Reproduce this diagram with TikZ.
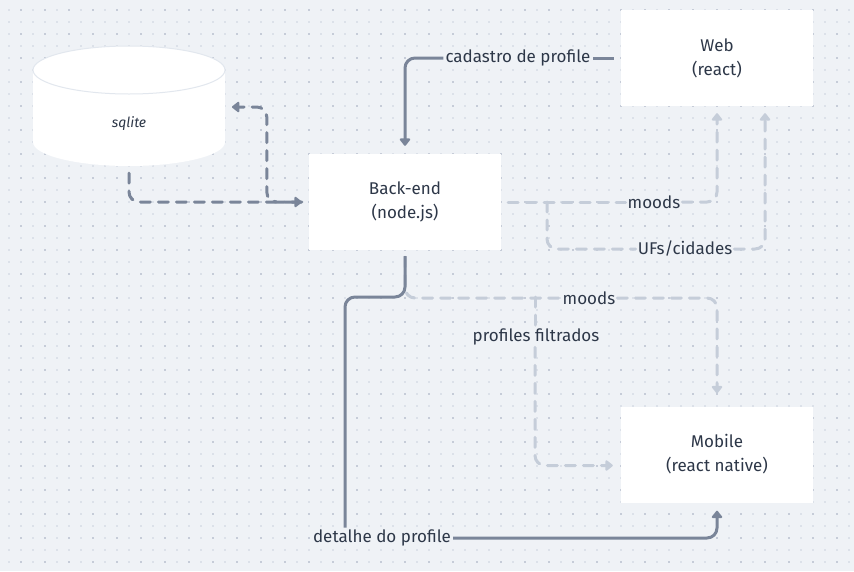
\documentclass[tikz,border=0pt]{standalone}
\usepackage{fontspec}
\setmainfont{Fira Sans}
\usepackage{xcolor}
\usetikzlibrary{positioning}
\usetikzlibrary{arrows.meta}

\definecolor{canvas}{HTML}{EFF2F6}
\definecolor{dotlight}{HTML}{DCE1E9}
\definecolor{dotdark}{HTML}{C6CCD8}
\definecolor{ink}{HTML}{2D3748}
\definecolor{slate}{HTML}{7A8599}
\definecolor{mist}{HTML}{C5CDD9}
\definecolor{rim}{HTML}{E2E7EE}

\begin{document}
\begin{tikzpicture}[x=1pt,y=-1pt,
  box/.style={fill=white,minimum width=192pt,minimum height=96pt,align=center,
    text=ink,font=\fontsize{17}{24}\selectfont},
  tag/.style={fill=canvas,inner sep=2pt,text=ink,font=\fontsize{17}{20}\selectfont},
  tip/.style={-{Triangle[length=8pt,width=12pt,round]}},
  solidlink/.style={draw=slate,line width=3pt,rounded corners=10pt},
  darkdash/.style={draw=slate,line width=3pt,rounded corners=10pt,line cap=round,
    dash pattern=on 10pt off 8pt},
  lightdash/.style={draw=mist,line width=3pt,rounded corners=10pt,line cap=round,
    dash pattern=on 10pt off 8pt}]

% canvas and dot grid
\fill[canvas] (0,0) rectangle (854,571);
\useasboundingbox (0,0) rectangle (854,571);
\foreach \x in {9,21,...,849}
  \foreach \y in {10,22,...,566}
    \fill[dotlight] (\x-1,\y-1) rectangle (\x+1,\y+1);
\foreach \x in {21,45,...,849}
  \foreach \y in {10,34,...,566}
    \fill[dotdark] (\x-1,\y-1) rectangle (\x+1,\y+1);

% database
\fill[white] (33,70) rectangle (225,142);
\fill[white] (129,142) ellipse [x radius=96pt,y radius=24pt];
\fill[white] (129,70) ellipse [x radius=96pt,y radius=24pt];
\draw[rim,line width=1pt] (129,70) ellipse [x radius=96pt,y radius=24pt];
\node[text=ink,font=\fontsize{14}{16}\selectfont\itshape] (db) at (129,124) {sqlite};
\coordinate (dbout) at (129,173);
\coordinate (dbin) at (232,107);

% boxes
\node[box] (backend) at (405,202) {Back-end\\(node.js)};
\node[box] (web) at (717,58) {Web\\(react)};
\node[box] (mobile) at (717,454.5) {Mobile\\(react native)};

% labels
\node[tag] (cadastro) at (518,58) {cadastro de profile};
\node[tag] (moodsweb) at (654,202) {moods};
\node[tag] (ufs) at (685,249) {UFs/cidades};
\node[tag] (moodsmob) at (589,298) {moods};
\node[tag] (filtrados) at (536,337) {profiles filtrados};
\node[tag] (detalhe) at (382,538) {detalhe do profile};

\coordinate (ufsfork) at (547,202);
\coordinate (filtfork) at (535,297);
\coordinate (bend) at (345,297);

% light links
\draw[lightdash] (backend.east) ++(7,0) -- (moodsweb);
\draw[lightdash,tip,shorten >=7pt] (moodsweb) -| (web.south);
\draw[lightdash] (ufsfork) |- (ufs);
\draw[lightdash,tip,shorten >=7pt] (ufs) -| ([xshift=48pt]web.south);
\draw[lightdash,shorten <=7pt] (backend.south) |- (moodsmob);
\draw[lightdash,tip,shorten >=13pt] (moodsmob) -| (mobile.north);
\draw[lightdash] (filtfork) -- (filtrados.north -| filtfork);
\draw[lightdash,tip,shorten >=8pt] (filtrados.south -| filtfork) |- ([yshift=-11pt]mobile.west);

% dark links
\draw[darkdash,tip,shorten >=7pt] (dbout) |- (backend.west);
\draw[darkdash,tip,shorten <=7pt] (backend.west) -- ++(-42,0) |- (dbin);
\draw[solidlink,shorten <=7pt] (web.west) -- (cadastro);
\draw[solidlink,tip,shorten >=8pt] (cadastro) -| (backend.north);
\draw[solidlink,shorten <=6pt] (backend.south) |- (bend) -- (detalhe.north -| bend);
\draw[solidlink,tip,shorten >=8pt] (detalhe.east) -| (mobile.south);
\end{tikzpicture}
\end{document}
